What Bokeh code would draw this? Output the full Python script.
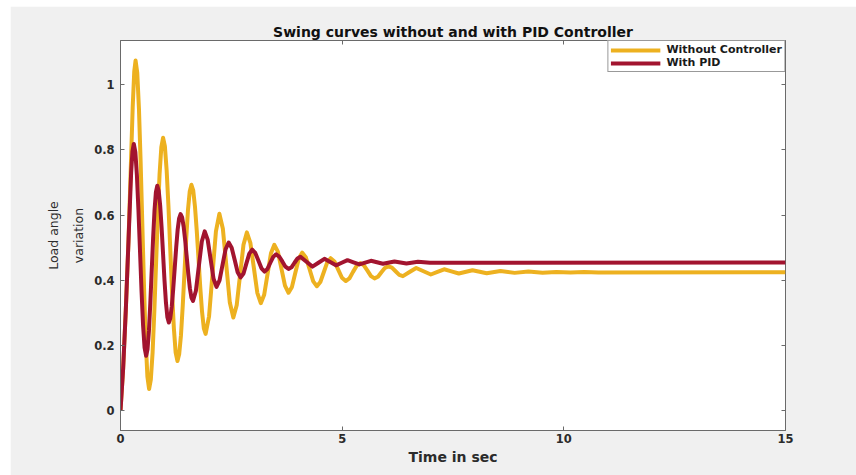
from bokeh.plotting import figure
from bokeh.models import (Range1d, FixedTicker, LinearAxis, NumeralTickFormatter,
                          CustomJSTickFormatter, Legend, LegendItem)
from bokeh.embed import file_html
from bokeh.resources import INLINE

# ---------------- data ----------------
t_without = [0, 0.06, 0.12, 0.18, 0.24, 0.275, 0.31, 0.34,
             0.378, 0.416, 0.454, 0.4925, 0.531, 0.569, 0.607, 0.645,
             0.684, 0.724, 0.763, 0.8025, 0.842, 0.881, 0.921, 0.96,
             1.001, 1.041, 1.082, 1.1225, 1.163, 1.204, 1.244, 1.285,
             1.324, 1.364, 1.403, 1.4425, 1.482, 1.521, 1.561, 1.60,
             1.64, 1.68, 1.72, 1.76, 1.80, 1.84, 1.88, 1.92,
             1.9975, 2.075, 2.1525, 2.23,
             2.309, 2.3875, 2.466, 2.545,
             2.621, 2.6975, 2.774, 2.85,
             2.929, 3.0075, 3.086, 3.165,
             3.241, 3.3175, 3.394, 3.47,
             3.55, 3.63, 3.71, 3.79,
             3.8675, 3.945, 4.0225, 4.10,
             4.1825, 4.265, 4.3475, 4.43,
             4.5075, 4.585, 4.6625, 4.74,
             4.825, 4.91, 4.995, 5.08,
             5.1625, 5.245, 5.3275, 5.41,
             5.49, 5.57, 5.65, 5.73,
             5.8075, 5.885, 5.9625, 6.04,
             6.1225, 6.205, 6.2875, 6.37,
             6.52, 6.67, 6.835, 7.00, 7.15, 7.30, 7.465, 7.63,
             7.94, 8.26, 8.57, 8.89, 9.20, 9.52, 9.83, 10.15, 10.46, 10.78, 15.0]
y_without = [0, 0.13, 0.31, 0.52, 0.78, 0.93, 1.04, 1.074,
             1.036, 0.927, 0.763, 0.571, 0.378, 0.214, 0.105, 0.067,
             0.096, 0.179, 0.305, 0.452, 0.599, 0.725, 0.808, 0.837,
             0.811, 0.737, 0.626, 0.495, 0.364, 0.253, 0.179, 0.153,
             0.174, 0.232, 0.320, 0.423, 0.526, 0.614, 0.672, 0.693,
             0.676, 0.626, 0.552, 0.465, 0.377, 0.303, 0.253, 0.236,
             0.290, 0.420, 0.550, 0.604,
             0.558, 0.445, 0.332, 0.286,
             0.324, 0.417, 0.509, 0.547,
             0.515, 0.439, 0.362, 0.330,
             0.356, 0.420, 0.483, 0.509,
             0.488, 0.436, 0.384, 0.362,
             0.380, 0.424, 0.467, 0.485,
             0.470, 0.434, 0.397, 0.382,
             0.395, 0.425, 0.455, 0.468,
             0.458, 0.433, 0.408, 0.398,
             0.406, 0.426, 0.445, 0.453,
             0.446, 0.430, 0.413, 0.406,
             0.411, 0.425, 0.438, 0.443,
             0.439, 0.428, 0.417, 0.413,
             0.4255, 0.438, 0.428, 0.418, 0.426, 0.434, 0.4275, 0.421,
             0.431, 0.422, 0.429, 0.423, 0.427, 0.4235, 0.426, 0.424, 0.4255, 0.4245, 0.425]

t_pid = [0, 0.06, 0.12, 0.18, 0.24, 0.27, 0.30,
         0.335, 0.3695, 0.404, 0.439, 0.474, 0.5085, 0.543, 0.578,
         0.6095, 0.641, 0.6725, 0.704, 0.7355, 0.767, 0.7985, 0.83,
         0.8625, 0.895, 0.9275, 0.96, 0.9925, 1.025, 1.0575, 1.09,
         1.123, 1.156, 1.189, 1.2225, 1.256, 1.289, 1.322, 1.355,
         1.39, 1.425, 1.46, 1.495, 1.53, 1.565, 1.60, 1.635,
         1.701, 1.7675, 1.834, 1.90,
         1.966, 2.0325, 2.099, 2.165,
         2.234, 2.3025, 2.371, 2.44,
         2.5075, 2.575, 2.6425, 2.71,
         2.775, 2.84, 2.905, 2.97,
         3.04, 3.11, 3.18, 3.25,
         3.315, 3.38, 3.445, 3.51,
         3.58, 3.65, 3.72, 3.79,
         3.8575, 3.925, 3.9925, 4.06,
         4.195, 4.33, 4.465, 4.60, 4.73, 4.86, 4.99, 5.12, 5.255, 5.39,
         5.65, 5.92, 6.18, 6.45, 6.71, 6.98, 15.0]
y_pid = [0, 0.13, 0.31, 0.52, 0.73, 0.795, 0.818,
         0.793, 0.723, 0.618, 0.494, 0.369, 0.264, 0.194, 0.169,
         0.189, 0.245, 0.330, 0.430, 0.529, 0.614, 0.670, 0.690,
         0.674, 0.629, 0.561, 0.481, 0.400, 0.332, 0.287, 0.271,
         0.284, 0.320, 0.3735, 0.437, 0.5005, 0.555, 0.590, 0.603,
         0.593, 0.564, 0.521, 0.470, 0.419, 0.376, 0.347, 0.337,
         0.368, 0.444, 0.519, 0.550,
         0.525, 0.465, 0.405, 0.380,
         0.400, 0.448, 0.496, 0.516,
         0.500, 0.463, 0.425, 0.409,
         0.421, 0.452, 0.482, 0.494,
         0.484, 0.461, 0.437, 0.427,
         0.435, 0.454, 0.472, 0.480,
         0.473, 0.458, 0.442, 0.435,
         0.440, 0.454, 0.467, 0.472,
         0.457, 0.442, 0.454, 0.466, 0.456, 0.446, 0.454, 0.462, 0.4555, 0.449,
         0.460, 0.451, 0.458, 0.452, 0.457, 0.454, 0.455]

series_labels = ["Without Controller", "With PID"]
x_ticks = [0, 5, 10, 15]
y_ticks = [0, 0.2, 0.4, 0.6, 0.8, 1]

YELLOW = "#EDB120"
RED = "#A2142F"
AXIS_COLOR = "#6a6a6a"
TEXT_COLOR = "#2b2b2b"

p = figure(width=846, height=469, output_backend="svg", toolbar_location=None,
           x_range=Range1d(0, 15), y_range=Range1d(-0.06, 1.135),
           min_border_left=110, min_border_right=71, min_border_top=34, min_border_bottom=45,
           background_fill_color="white", border_fill_color="#f0f0f0",
           x_axis_label="Time in sec", y_axis_label="Load angle\nvariation")
p.margin = (6, 0, 0, 10)

p.grid.visible = False
p.outline_line_color = AXIS_COLOR
p.outline_line_width = 1

p.title.text = "Swing curves without and with PID Controller"
p.title.align = "center"
p.title.text_font = "DejaVu Sans"
p.title.text_font_style = "bold"
p.title.text_font_size = "14px"
p.title.text_color = "#111111"
p.title.standoff = 1

def style_axis(ax):
    ax.axis_line_color = AXIS_COLOR
    ax.major_tick_line_color = AXIS_COLOR
    ax.major_tick_in = 4
    ax.major_tick_out = 0
    ax.minor_tick_line_color = None
    ax.major_label_text_font = "DejaVu Sans"
    ax.major_label_text_font_style = "bold"
    ax.major_label_text_font_size = "11.5px"
    ax.major_label_text_color = TEXT_COLOR

xa = p.xaxis[0]
xa.ticker = FixedTicker(ticks=x_ticks)
style_axis(xa)
xa.major_label_standoff = 3
xa.axis_label_standoff = 3
xa.axis_label_text_font = "DejaVu Sans"
xa.axis_label_text_font_style = "bold"
xa.axis_label_text_font_size = "14px"
xa.axis_label_text_color = TEXT_COLOR

ya = p.yaxis[0]
ya.ticker = FixedTicker(ticks=y_ticks)
ya.formatter = NumeralTickFormatter(format="0.[0]")
style_axis(ya)
ya.major_label_standoff = 6
ya.axis_label_standoff = 5
ya.axis_label_text_font = "DejaVu Sans"
ya.axis_label_text_font_style = "normal"
ya.axis_label_text_font_size = "12.5px"
ya.axis_label_text_line_height = 1.65
ya.axis_label_text_color = TEXT_COLOR

# box ticks on top and right (MATLAB style), without labels
top_ax = LinearAxis(ticker=FixedTicker(ticks=x_ticks))
right_ax = LinearAxis(ticker=FixedTicker(ticks=y_ticks))
for ax in (top_ax, right_ax):
    style_axis(ax)
    ax.formatter = CustomJSTickFormatter(code="return ''")
    ax.major_label_standoff = 0
    ax.axis_line_color = None
p.add_layout(top_ax, "above")
p.add_layout(right_ax, "right")

r1 = p.line(t_without, y_without, line_color=YELLOW, line_width=4, line_join="round")
r2 = p.line(t_pid, y_pid, line_color=RED, line_width=4, line_join="round")

legend = Legend(items=[LegendItem(label=series_labels[0], renderers=[r1]),
                       LegendItem(label=series_labels[1], renderers=[r2])],
                location="top_right", margin=0, padding=2, spacing=0,
                glyph_width=50, glyph_height=12, label_height=12, label_standoff=6,
                label_text_font="DejaVu Sans", label_text_font_style="bold",
                label_text_font_size="11px", label_text_line_height=1.0,
                label_text_color="#1a1a1a",
                border_line_color="#333333", border_line_width=1,
                background_fill_color="white", background_fill_alpha=1.0)
p.add_layout(legend)

open("out.html", "w").write(file_html(p, INLINE))
